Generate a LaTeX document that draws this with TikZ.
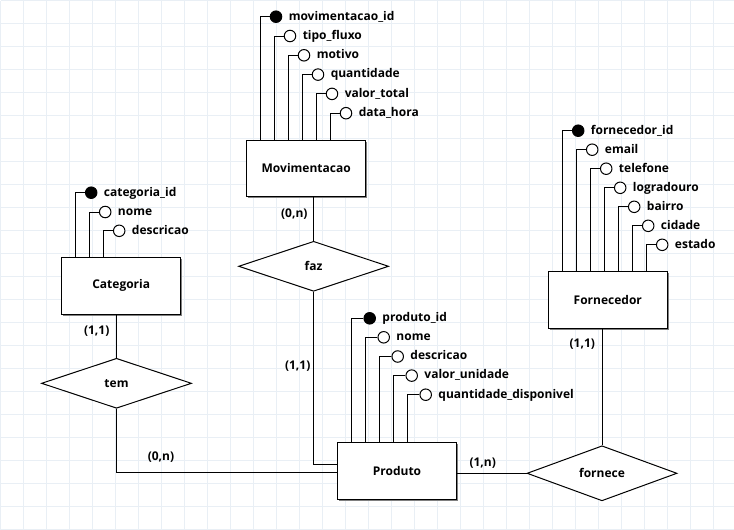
\documentclass[tikz,border=0pt]{standalone}
\usepackage{fontspec}
\setmainfont{Open Sans}
\usetikzlibrary{positioning,shapes.geometric,shadows}

\definecolor{gridcol}{RGB}{233,239,245}
\definecolor{shadowcol}{RGB}{128,128,128}

\begin{document}
\begin{tikzpicture}[x=1pt,y=-1pt,
  font=\fontsize{12}{14}\selectfont\bfseries,
  line width=1pt,
  entity/.style={draw, fill=white, minimum width=119pt, minimum height=56.5pt, inner sep=0pt,
    drop shadow={shadow xshift=1.6pt, shadow yshift=-1.6pt, fill=shadowcol, opacity=1}},
  relation/.style={draw, fill=white, diamond, minimum width=150pt, minimum height=50pt, inner sep=0pt},
  attr/.style={draw, circle, fill=white, minimum size=11.5pt, inner sep=0pt},
  pkattr/.style={attr, fill=black},
  lbl/.style={inner sep=0pt, anchor=west, text height=8.6pt, text depth=2pt},
  card/.style={inner sep=0pt}]
  \useasboundingbox (0,0) rectangle (734,530);
  % Background grid
  \draw[gridcol, line width=0.8pt, step=23pt, xshift=0.5pt, yshift=-0.5pt] (0pt,0pt) grid (734pt,-530pt);

  % Entities
  \node[entity] (mov)  at (306.2,168.3) {Movimentacao};
  \node[entity] (cat)  at (121.2,285.8) {Categoria};
  \node[entity] (prod) at (397.0,470.8) {Produto};
  \node[entity] (forn) at (607.8,300.0) {Fornecedor};

  % Relationships
  \node[relation] (faz)     at (313.6,266.3) {faz};
  \node[relation] (tem)     at (116.5,383.3) {tem};
  \node[relation] (fornece) at (602.0,473.3) {fornece};

  % Attributes of Movimentacao
  \node[pkattr] (m1) at (276,16.7)  {}; \node[lbl, right=6pt of m1] (m1l) {movimentacao\_id};
  \node[attr]   (m2) at (290,36.0)  {}; \node[lbl, right=6pt of m2] (m2l) {tipo\_fluxo};
  \node[attr]   (m3) at (304,55.3)  {}; \node[lbl, right=6pt of m3] (m3l) {motivo};
  \node[attr]   (m4) at (318,74.6)  {}; \node[lbl, right=6pt of m4] (m4l) {quantidade};
  \node[attr]   (m5) at (332,93.9)  {}; \node[lbl, right=6pt of m5] (m5l) {valor\_total};
  \node[attr]   (m6) at (346,113.2) {}; \node[lbl, right=6pt of m6] (m6l) {data\_hora};
  \draw (m1.west) -- ++(-9.5,0) coordinate (m1c) -- (m1c |- mov.north);
  \draw (m2.west) -- ++(-9.5,0) coordinate (m2c) -- (m2c |- mov.north);
  \draw (m3.west) -- ++(-9.5,0) coordinate (m3c) -- (m3c |- mov.north);
  \draw (m4.west) -- ++(-9.5,0) coordinate (m4c) -- (m4c |- mov.north);
  \draw (m5.west) -- ++(-9.5,0) coordinate (m5c) -- (m5c |- mov.north);
  \draw (m6.west) -- ++(-9.5,0) coordinate (m6c) -- (m6c |- mov.north);

  % Attributes of Categoria
  \node[pkattr] (c1) at (91.2,192.7)  {}; \node[lbl, right=6pt of c1] (c1l) {categoria\_id};
  \node[attr]   (c2) at (105.2,212.0) {}; \node[lbl, right=6pt of c2] (c2l) {nome};
  \node[attr]   (c3) at (119.2,230.8) {}; \node[lbl, right=6pt of c3] (c3l) {descricao};
  \draw (c1.west) -- ++(-9.5,0) coordinate (c1c) -- (c1c |- cat.north);
  \draw (c2.west) -- ++(-9.5,0) coordinate (c2c) -- (c2c |- cat.north);
  \draw (c3.west) -- ++(-9.5,0) coordinate (c3c) -- (c3c |- cat.north);

  % Attributes of Produto
  \node[pkattr] (p1) at (369.7,318.3) {}; \node[lbl, right=6pt of p1] (p1l) {produto\_id};
  \node[attr]   (p2) at (383.7,337.3) {}; \node[lbl, right=6pt of p2] (p2l) {nome};
  \node[attr]   (p3) at (397.7,356.5) {}; \node[lbl, right=6pt of p3] (p3l) {descricao};
  \node[attr]   (p4) at (411.7,375.6) {}; \node[lbl, right=6pt of p4] (p4l) {valor\_unidade};
  \node[attr]   (p5) at (425.7,394.7) {}; \node[lbl, right=6pt of p5] (p5l) {quantidade\_disponivel};
  \draw (p1.west) -- ++(-12,0) coordinate (p1c) -- (p1c |- prod.north);
  \draw (p2.west) -- ++(-12,0) coordinate (p2c) -- (p2c |- prod.north);
  \draw (p3.west) -- ++(-12,0) coordinate (p3c) -- (p3c |- prod.north);
  \draw (p4.west) -- ++(-12,0) coordinate (p4c) -- (p4c |- prod.north);
  \draw (p5.west) -- ++(-12,0) coordinate (p5c) -- (p5c |- prod.north);

  % Attributes of Fornecedor
  \node[pkattr] (f1) at (578.2,130.7) {}; \node[lbl, right=6pt of f1] (f1l) {fornecedor\_id};
  \node[attr]   (f2) at (592.2,149.7) {}; \node[lbl, right=6pt of f2] (f2l) {email};
  \node[attr]   (f3) at (606.2,168.7) {}; \node[lbl, right=6pt of f3] (f3l) {telefone};
  \node[attr]   (f4) at (620.2,187.8) {}; \node[lbl, right=6pt of f4] (f4l) {logradouro};
  \node[attr]   (f5) at (634.2,206.8) {}; \node[lbl, right=6pt of f5] (f5l) {bairro};
  \node[attr]   (f6) at (648.2,225.8) {}; \node[lbl, right=6pt of f6] (f6l) {cidade};
  \node[attr]   (f7) at (662.2,244.8) {}; \node[lbl, right=6pt of f7] (f7l) {estado};
  \draw (f1.west) -- ++(-9.7,0) coordinate (f1c) -- (f1c |- forn.north);
  \draw (f2.west) -- ++(-9.7,0) coordinate (f2c) -- (f2c |- forn.north);
  \draw (f3.west) -- ++(-9.7,0) coordinate (f3c) -- (f3c |- forn.north);
  \draw (f4.west) -- ++(-9.7,0) coordinate (f4c) -- (f4c |- forn.north);
  \draw (f5.west) -- ++(-9.7,0) coordinate (f5c) -- (f5c |- forn.north);
  \draw (f6.west) -- ++(-9.7,0) coordinate (f6c) -- (f6c |- forn.north);
  \draw (f7.west) -- ++(-9.7,0) coordinate (f7c) -- (f7c |- forn.north);

  % Connectors
  \draw (faz.north) -- (faz.north |- mov.south);
  \draw (faz.south) |- ([yshift=6pt]prod.west);
  \draw (tem.north) -- (tem.north |- cat.south);
  \draw (tem.south) |- ([yshift=-1.5pt]prod.west);
  \draw (fornece.north) -- (fornece.north |- forn.south);
  \draw ([yshift=-2.5pt]prod.east) -- (fornece.west);

  % Cardinalities
  \node[card] (k1) at (294.3,214.0) {(0,n)};
  \node[card] (k2) at (297.7,365.7) {(1,1)};
  \node[card] (k3) at (96.7,331.0)  {(1,1)};
  \node[card] (k4) at (161.0,456.7) {(0,n)};
  \node[card] (k5) at (582.3,344.3) {(1,1)};
  \node[card] (k6) at (482.7,463.3) {(1,n)};
\end{tikzpicture}
\end{document}
